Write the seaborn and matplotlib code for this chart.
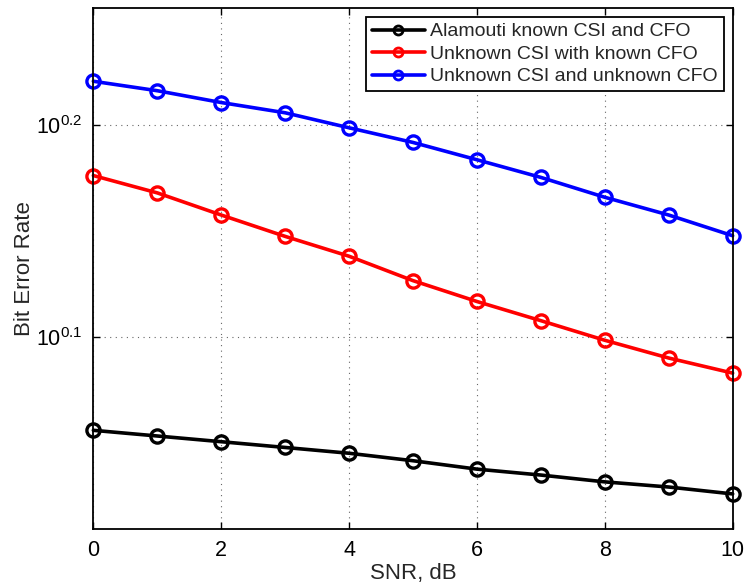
import numpy as np
import pandas as pd
import seaborn as sns
import matplotlib
matplotlib.use("Agg")
import matplotlib.pyplot as plt
from matplotlib.ticker import FixedLocator, FixedFormatter, NullLocator

snr = [0, 1, 2, 3, 4, 5, 6, 7, 8, 9, 10]
ber_known = [1.137, 1.130, 1.123, 1.116, 1.109, 1.100, 1.090, 1.083, 1.075, 1.069, 1.061]
ber_unknown_csi = [1.500, 1.472, 1.437, 1.404, 1.374, 1.338, 1.308, 1.281, 1.254, 1.230, 1.210]
ber_unknown_both = [1.662, 1.645, 1.624, 1.606, 1.580, 1.555, 1.526, 1.497, 1.465, 1.437, 1.405]
labels = ["Alamouti known CSI and CFO", "Unknown CSI with known CFO", "Unknown CSI and unknown CFO"]
colors = ["#000000", "#ff0000", "#0000ff"]
xticks = [0, 2, 4, 6, 8, 10]
ytick_vals = [10 ** 0.1, 10 ** 0.2]
ytick_labels = [r"$10^{0.1}$", r"$10^{0.2}$"]

df = pd.DataFrame({
    "SNR": snr * 3,
    "BER": ber_known + ber_unknown_csi + ber_unknown_both,
    "Scheme": [labels[0]] * len(snr) + [labels[1]] * len(snr) + [labels[2]] * len(snr),
})

sns.set_style("white")
plt.rcParams["font.family"] = ["Liberation Sans", "DejaVu Sans"]
plt.rcParams["mathtext.fontset"] = "custom"
plt.rcParams["mathtext.rm"] = "Liberation Sans"
plt.rcParams["mathtext.it"] = "Liberation Sans"

fig = plt.figure(figsize=(7.48, 5.88), dpi=100)
ax = fig.add_axes([0.1248, 0.0998, 0.8547, 0.8861])

sns.lineplot(data=df, x="SNR", y="BER", hue="Scheme", palette=colors, ax=ax,
             marker="o", markersize=9.5, markerfacecolor="none", markeredgewidth=2.4,
             linewidth=2.6, legend=True)
for line, c in zip(ax.get_lines(), colors):
    line.set_markeredgecolor(c)
    line.set_clip_on(False)

ax.set_yscale("log")
ax.set_xlim(0, 10)
ax.set_ylim(10 ** 0.009, 10 ** 0.2551)
ax.xaxis.set_major_locator(FixedLocator(xticks))
ax.yaxis.set_major_locator(FixedLocator(ytick_vals))
ax.yaxis.set_major_formatter(FixedFormatter(ytick_labels))
ax.yaxis.set_minor_locator(NullLocator())
ax.xaxis.set_minor_locator(NullLocator())

ax.grid(True, which="major", linestyle=(0, (1, 4)), color="#666666", linewidth=0.8)
ax.tick_params(direction="in", length=5, width=1, labelsize=15.5, top=True, right=True,
               bottom=True, left=True, colors="black", pad=8)
for s in ax.spines.values():
    s.set_color("black")
    s.set_linewidth(1.3)

ax.set_xlabel("SNR, dB", fontsize=16, labelpad=1)
ax.set_ylabel("Bit Error Rate", fontsize=16, labelpad=1)

handles, lbls = ax.get_legend_handles_labels()
for h, c in zip(handles, colors):
    h.set_markerfacecolor("none")
    h.set_markeredgecolor(c)
    h.set_markersize(6.5)
    h.set_markeredgewidth(2)
leg = ax.legend(handles, lbls, loc="upper right", fontsize=14, frameon=True, fancybox=False,
                edgecolor="black", framealpha=1, borderpad=0.3, labelspacing=0.25,
                handlelength=2.7, handletextpad=0.3, borderaxespad=0.45)
leg.get_frame().set_linewidth(1.3)

fig.savefig("out.png", dpi=100)
